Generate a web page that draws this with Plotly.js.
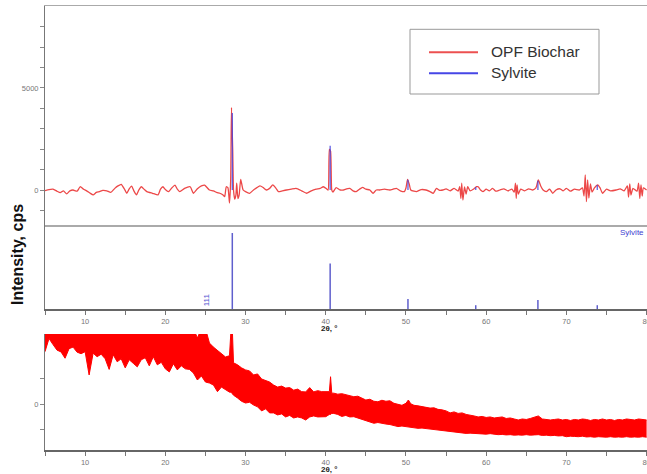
<!DOCTYPE html>
<html>
<head>
<meta charset="utf-8">
<script src="https://cdn.plot.ly/plotly-3.0.1.min.js"></script>
<style>html,body{margin:0;padding:0;background:#fff;}#chart{width:647px;height:474px;}</style>
</head>
<body>
<div id="chart"></div>
<script>
// ---- Data ----
// Sylvite (KCl) reference lines, 2θ in degrees
var sylviteTheta = [28.35, 40.55, 50.25, 58.7, 66.45, 73.85];
var sylviteRel   = [100, 60, 13, 5, 12, 5];          // relative intensity (%)
var sylviteFit   = [3770, 2170, 500, 150, 450, 250];  // fitted profile height in top panel (cps)

// OPF Biochar, background-subtracted pattern (top panel)
var biocharTheta = [5.0,5.5,6.0,6.5,6.9,7.3,7.7,8.1,8.5,9.0,9.4,9.8,10.2,10.6,11.0,11.4,11.8,12.2,12.7,13.2,13.7,14.1,14.5,14.9,15.2,15.5,15.8,16.1,16.4,16.7,17.0,17.4,17.7,18.4,19.1,19.4,19.7,20.0,20.4,20.8,21.2,21.5,21.8,22.4,23.1,23.5,24.0,24.5,24.9,25.5,26.0,26.4,26.8,27.2,27.4,27.6,27.8,28.0,28.15,28.25,28.4,28.5,28.65,28.8,28.9,29.05,29.2,29.4,29.7,30.0,30.5,31.0,31.8,32.2,32.6,33.0,33.4,33.8,34.1,34.6,35.1,35.7,36.3,37.0,37.6,38.2,38.8,39.3,39.7,40.1,40.3,40.45,40.6,40.75,40.9,41.3,41.8,42.2,42.6,43.0,43.4,43.8,44.2,44.6,45.0,45.5,45.9,46.3,46.7,47.3,48.0,48.4,48.8,49.3,49.8,50.0,50.2,50.4,50.6,51.0,51.3,51.9,52.5,53.0,53.4,53.8,54.2,54.6,55.0,55.5,56.0,56.5,56.7,56.85,56.95,57.1,57.3,57.5,57.7,58.0,58.4,58.8,59.0,59.3,59.6,60.0,60.4,60.8,61.2,61.7,62.2,62.7,63.2,63.5,63.65,63.75,63.85,64.0,64.3,64.8,65.3,65.8,66.2,66.5,66.8,67.1,67.5,67.9,68.3,68.7,69.2,69.6,70.0,70.5,71.0,71.6,72.0,72.2,72.35,72.5,72.65,72.8,73.0,73.2,73.5,73.9,74.2,74.5,75.0,75.5,76.2,76.7,77.2,77.6,77.75,77.9,78.05,78.3,78.8,79.0,79.15,79.3,79.45,79.6,80.0];
var biocharCps = [-30,20,40,-60,-130,-40,-190,-40,0,-60,170,40,-40,-150,-240,-120,-80,-20,-40,-120,80,200,280,50,-160,60,190,-60,-240,0,160,20,-80,-160,-240,40,160,20,-80,100,240,40,-80,80,160,-160,60,200,240,0,-40,-120,-160,-250,-330,160,120,-640,500,4050,2000,0,-450,-250,330,-420,-250,520,0,-80,-160,0,200,120,0,80,250,80,-80,-40,0,40,80,-40,-160,-40,40,80,160,60,0,1990,1900,0,-100,120,0,0,60,80,-40,-80,40,130,40,0,-160,0,0,40,0,40,80,-40,-80,100,520,300,0,-60,-80,20,0,-80,-160,80,-20,0,60,-40,80,-60,160,-410,330,-490,150,-200,160,-40,40,160,160,0,-80,40,-40,80,-60,0,60,-40,40,-100,330,-410,250,-200,40,-40,60,0,100,490,200,0,-80,40,-160,0,60,-40,80,-60,40,0,100,-300,735,-572,500,-400,300,-100,100,250,100,-160,40,-40,0,60,-40,200,-350,300,-250,80,-60,330,-410,250,-300,100,0];

// OPF Biochar raw scan (bottom panel): upper and lower edge of the noisy trace
var rawTheta = [5.0,5.5,6.0,6.5,7.0,7.5,8.0,8.5,9.0,9.5,10.0,10.5,11.0,11.5,12.0,12.5,13.0,13.5,14.0,14.5,15.0,15.5,16.0,16.5,17.0,17.5,18.0,18.5,19.0,19.5,20.0,20.5,21.0,21.5,22.0,22.5,23.0,23.5,24.0,24.5,25.0,25.5,26.0,26.5,27.0,27.5,28.0,28.2,28.35,28.5,29.0,29.5,30.0,30.5,31.0,31.5,32.0,32.5,33.0,33.5,34.0,34.5,35.0,35.5,36.0,36.5,37.0,37.5,38.0,38.5,39.0,39.5,40.0,40.45,40.6,40.75,41.0,41.5,42.0,42.5,43.0,43.5,44.0,44.5,45.0,45.5,46.0,46.5,47.0,47.5,48.0,48.5,49.0,49.5,50.0,50.3,50.6,51.0,51.5,52.0,52.5,53.0,53.5,54.0,54.5,55.0,55.5,56.0,56.5,57.0,57.5,58.0,58.5,59.0,59.5,60.0,60.5,61.0,61.5,62.0,62.5,63.0,63.5,64.0,64.5,65.0,65.5,66.0,66.5,67.0,67.5,68.0,68.5,69.0,69.5,70.0,70.5,71.0,71.5,72.0,72.5,73.0,73.5,74.0,74.5,75.0,75.5,76.0,76.5,77.0,77.5,78.0,78.5,79.0,79.5,80.0];
var rawUpper = [1500,1500,1500,1500,1500,1500,1500,1500,1500,1500,1500,1500,1500,1500,1500,1500,1500,1500,1500,1500,1500,1500,1500,1500,1500,1500,1500,1500,1500,1500,1500,1500,1500,1500,1500,1500,1500,1500,1310,1500,1500,1210,1130,1070,1010,935,960,1500,1500,820,780,720,680,660,580,600,500,470,440,380,340,360,320,330,280,300,250,245,330,245,270,250,250,250,545,220,220,200,210,185,170,150,160,120,85,100,60,50,80,60,70,20,0,-20,20,85,10,-20,-30,-50,-60,-75,-70,-100,-110,-130,-170,-150,-180,-170,-200,-210,-230,-250,-240,-260,-250,-270,-260,-250,-280,-270,-290,-310,-290,-300,-280,-260,-230,-290,-300,-310,-300,-290,-310,-300,-320,-300,-310,-290,-300,-320,-300,-310,-290,-310,-300,-320,-300,-310,-290,-300,-310,-290,-300,-310];
var rawLower = [1040,1300,1180,1070,1035,910,1100,1130,1030,1000,1040,580,1010,940,990,900,690,980,840,900,720,880,810,740,880,920,760,940,780,830,700,640,800,680,760,700,690,620,480,560,440,420,380,250,340,290,240,240,200,180,125,60,25,40,-14,-50,-130,-90,-170,-170,-210,-190,-250,-220,-270,-250,-270,-310,-250,-230,-250,-245,-245,-200,-200,-180,-180,-200,-240,-220,-250,-245,-270,-300,-310,-340,-375,-360,-380,-390,-400,-420,-440,-430,-440,-440,-450,-460,-475,-470,-480,-490,-500,-500,-510,-520,-540,-545,-560,-570,-575,-570,-575,-580,-575,-590,-580,-590,-600,-595,-605,-600,-610,-605,-610,-600,-610,-605,-600,-615,-610,-620,-615,-625,-620,-640,-630,-635,-640,-630,-645,-640,-650,-640,-645,-650,-640,-650,-645,-650,-640,-650,-645,-650,-640,-650];

// Axis tick labels
var thetaTicks = [5,10,15,20,25,30,35,40,45,50,55,60,65,70,75,80];
var thetaTickText = ['','10','','20','','30','','40','','50','','60','','70','','80'];
var topTicks = [-1000,0,1000,2000,3000,4000,5000,6000,7000,8000];
var topTickText = ['','0','','','','','5000','','',''];
var botTicks = [-500,0,500];
var botTickText = ['','0',''];

// ---- Build traces ----
function sticks(xs, hs) {
  var x = [], y = [];
  for (var i = 0; i < xs.length; i++) { x.push(xs[i], xs[i], null); y.push(0, hs[i], null); }
  return {x: x, y: y};
}
var topBlue = sticks(sylviteTheta, sylviteFit);
var midBlue = sticks(sylviteTheta, sylviteRel);

var RED_T = 'rgb(236,72,72)';
var traces = [
  {x: biocharTheta, y: biocharCps, xaxis: 'x', yaxis: 'y', mode: 'lines', name: 'OPF Biochar',
   line: {color: RED_T, width: 1.3, shape: 'spline', smoothing: 0.5}, showlegend: false, hoverinfo: 'skip'},
  {x: topBlue.x, y: topBlue.y, xaxis: 'x', yaxis: 'y', mode: 'lines', name: 'Sylvite',
   line: {color: 'rgba(70,70,225,0.85)', width: 1.3}, showlegend: false, hoverinfo: 'skip'},
  {x: midBlue.x, y: midBlue.y, xaxis: 'x2', yaxis: 'y2', mode: 'lines', name: 'Sylvite ref',
   line: {color: 'rgb(95,95,205)', width: 1.5}, showlegend: false, hoverinfo: 'skip'},
  {x: rawTheta, y: rawLower, xaxis: 'x3', yaxis: 'y3', mode: 'lines',
   line: {color: '#ff0000', width: 1}, showlegend: false, hoverinfo: 'skip'},
  {x: rawTheta, y: rawUpper, xaxis: 'x3', yaxis: 'y3', mode: 'lines', fill: 'tonexty',
   fillcolor: '#ff0000', line: {color: '#ff0000', width: 1}, showlegend: false, hoverinfo: 'skip'}
];

// ---- Layout ----
var H = 474, W = 647, L = 45;
function py(p) { return 1 - p / H; }          // pixel row -> paper y
function px(p) { return (p - L) / (W - L); }   // pixel col -> paper x
var FONT = 'Liberation Sans, Arial, Helvetica, sans-serif';
var tickFont = {family: FONT, size: 7.5, color: '#777'};

var xBase = {range: [5, 80.05], domain: [0, 1], showgrid: false, zeroline: false, automargin: false,
  fixedrange: true, ticklabeloverflow: 'allow'};
var layout = {
  width: W, height: H,
  margin: {l: L, r: 0, t: 0, b: 0},
  paper_bgcolor: '#fff', plot_bgcolor: '#fff',
  font: {family: FONT},
  showlegend: false,
  xaxis: Object.assign({}, xBase, {anchor: 'y', showline: true, mirror: true, linecolor: '#aaa', linewidth: 1.5,
    showticklabels: false, ticks: ''}),
  yaxis: {domain: [py(225), py(6)], range: [-1715, 9016], showline: true, linecolor: '#777', linewidth: 1,
    ticks: 'outside', ticklen: 4, tickcolor: '#888', tickvals: topTicks, ticktext: topTickText,
    tickfont: tickFont, showgrid: false, zeroline: false, automargin: false, anchor: 'x'},
  xaxis2: Object.assign({}, xBase, {anchor: 'y2', showline: true, linecolor: '#666', linewidth: 1.5,
    ticks: 'outside', ticklen: 4, tickcolor: '#777', tickvals: thetaTicks, ticktext: thetaTickText, tickfont: tickFont}),
  yaxis2: {domain: [py(309), py(225)], range: [0, 110.5], showline: true, linecolor: '#777', linewidth: 1,
    ticks: '', showticklabels: false, showgrid: false, zeroline: false, automargin: false, anchor: 'x2'},
  xaxis3: Object.assign({}, xBase, {anchor: 'y3', showline: true, linecolor: '#666', linewidth: 1.5,
    ticks: 'outside', ticklen: 4, tickcolor: '#777', tickvals: thetaTicks, ticktext: thetaTickText, tickfont: tickFont}),
  yaxis3: {domain: [py(450), py(334)], range: [-903, 1389], showline: true, linecolor: '#777', linewidth: 1,
    ticks: 'outside', ticklen: 4, tickcolor: '#888', tickvals: botTicks, ticktext: botTickText,
    tickfont: tickFont, showgrid: false, zeroline: false, automargin: false, anchor: 'x3'},
  shapes: [
    {type: 'rect', xref: 'paper', yref: 'paper', x0: px(410), x1: px(599), y0: py(94), y1: py(29.3),
     line: {color: '#999', width: 1}, fillcolor: 'rgba(255,255,255,0)'},
    {type: 'line', xref: 'paper', yref: 'paper', x0: px(429), x1: px(478), y0: py(52.3), y1: py(52.3),
     line: {color: 'rgb(236,80,80)', width: 2}},
    {type: 'line', xref: 'paper', yref: 'paper', x0: px(429), x1: px(478), y0: py(73.3), y1: py(73.3),
     line: {color: 'rgb(70,70,230)', width: 2}}
  ],
  annotations: [
    {text: 'OPF Biochar', xref: 'paper', yref: 'paper', x: px(489), y: py(51), xanchor: 'left', yanchor: 'middle',
     showarrow: false, font: {family: FONT, size: 15.5, color: '#333'}},
    {text: 'Sylvite', xref: 'paper', yref: 'paper', x: px(489), y: py(72.5), xanchor: 'left', yanchor: 'middle',
     showarrow: false, font: {family: FONT, size: 15.5, color: '#333'}},
    {text: '<b>Intensity, cps</b>', xref: 'paper', yref: 'paper', x: px(17), y: py(255), textangle: -90,
     xanchor: 'center', yanchor: 'middle', showarrow: false, font: {family: FONT, size: 16, color: '#111'}},
    {text: '<b>2θ, °</b>', xref: 'x2', yref: 'paper', x: 40.4, y: py(328), xanchor: 'center', yanchor: 'middle',
     showarrow: false, font: {family: FONT, size: 8, color: '#222'}},
    {text: '<b>2θ, °</b>', xref: 'x3', yref: 'paper', x: 40.4, y: py(469), xanchor: 'center', yanchor: 'middle',
     showarrow: false, font: {family: FONT, size: 8, color: '#222'}},
    {text: 'Sylvite', xref: 'paper', yref: 'paper', x: px(646), y: py(232.5), xanchor: 'right', yanchor: 'middle',
     showarrow: false, font: {family: FONT, size: 8, color: '#4040d0'}},
    {text: '111', xref: 'x2', yref: 'y2', x: 25.17, y: 12.5, textangle: -90, xanchor: 'center', yanchor: 'middle',
     showarrow: false, font: {family: FONT, size: 8, color: '#5050d0'}}
  ]
};

Plotly.newPlot('chart', traces, layout, {displayModeBar: false, staticPlot: true});
</script>
</body>
</html>
